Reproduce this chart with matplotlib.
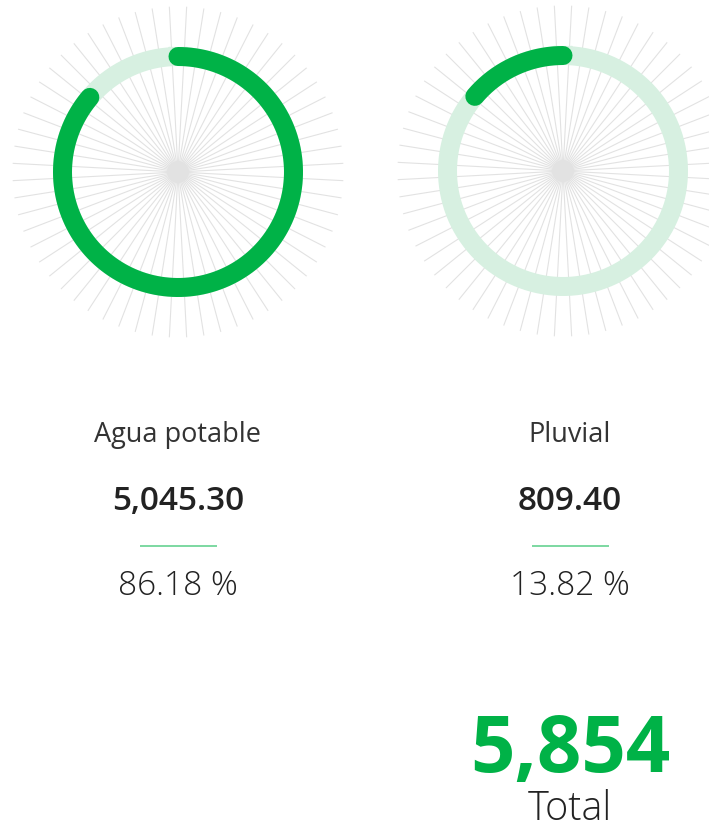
import numpy as np
import matplotlib.pyplot as plt

# datos
categorias = ['Agua potable', 'Pluvial']
valores = [5045.30, 809.40]
porcentajes = [86.18, 13.82]
total = 5854

verde = '#00b247'
verde_claro = '#d7f0e1'
gris = '#e2e2e2'

W, H = 709, 831
fig = plt.figure(figsize=(W / 100, H / 100), dpi=100)
ax = fig.add_axes([0, 0, 1, 1])
ax.set_xlim(0, W)
ax.set_ylim(H, 0)
ax.axis('off')

px = 72 / 100  # puntos por pixel

centros = [(178, 172), (563, 171)]
texto_x = [178, 570]
r_anillo = 115.5
r_rayos = 165

inicio = 0.0
for i, cat in enumerate(categorias):
    cx, cy = centros[i]
    # rayos
    for a in np.deg2rad(np.arange(3, 360, 6)):
        ax.plot([cx, cx + r_rayos * np.sin(a)], [cy, cy - r_rayos * np.cos(a)],
                color=gris, lw=1.1 * px, zorder=1)
    ax.add_patch(plt.Circle((cx, cy), 11, color=gris, zorder=1, lw=0))

    # anillo de fondo
    t = np.linspace(0, 2 * np.pi, 400)
    ax.plot(cx + r_anillo * np.sin(t), cy - r_anillo * np.cos(t),
            color=verde_claro, lw=19 * px, zorder=2)

    # arco del valor (sentido horario desde arriba)
    frac = porcentajes[i] / 100
    t = np.linspace(inicio, inicio + frac, 300) * 2 * np.pi
    ax.plot(cx + r_anillo * np.sin(t), cy - r_anillo * np.cos(t),
            color=verde, lw=19 * px, solid_capstyle='round', zorder=3)
    inicio += frac

    tx = texto_x[i]
    ax.text(tx, 442, cat, ha='center', va='baseline', fontsize=19.5,
            family='Open Sans', color='#333333')
    ax.text(tx, 510, f'{valores[i]:,.2f}', ha='center', va='baseline', fontsize=24,
            family='Open Sans', fontweight='semibold', color='#222222')
    ax.plot([tx - 37.5, tx + 37.5], [545.5, 545.5], color='#7fd9a3', lw=2 * px)
    ax.text(tx, 595, f'{porcentajes[i]:.2f} %', ha='center', va='baseline', fontsize=24,
            family='Open Sans', fontweight='light', color='#222222')

ax.text(570, 772, f'{total:,}', ha='center', va='baseline', fontsize=56,
        family='Open Sans', fontweight='bold', color=verde)
ax.text(570, 820, 'Total', ha='center', va='baseline', fontsize=28.5,
        family='Open Sans', fontweight='light', color='#222222')

fig.savefig('out.png', dpi=100)
